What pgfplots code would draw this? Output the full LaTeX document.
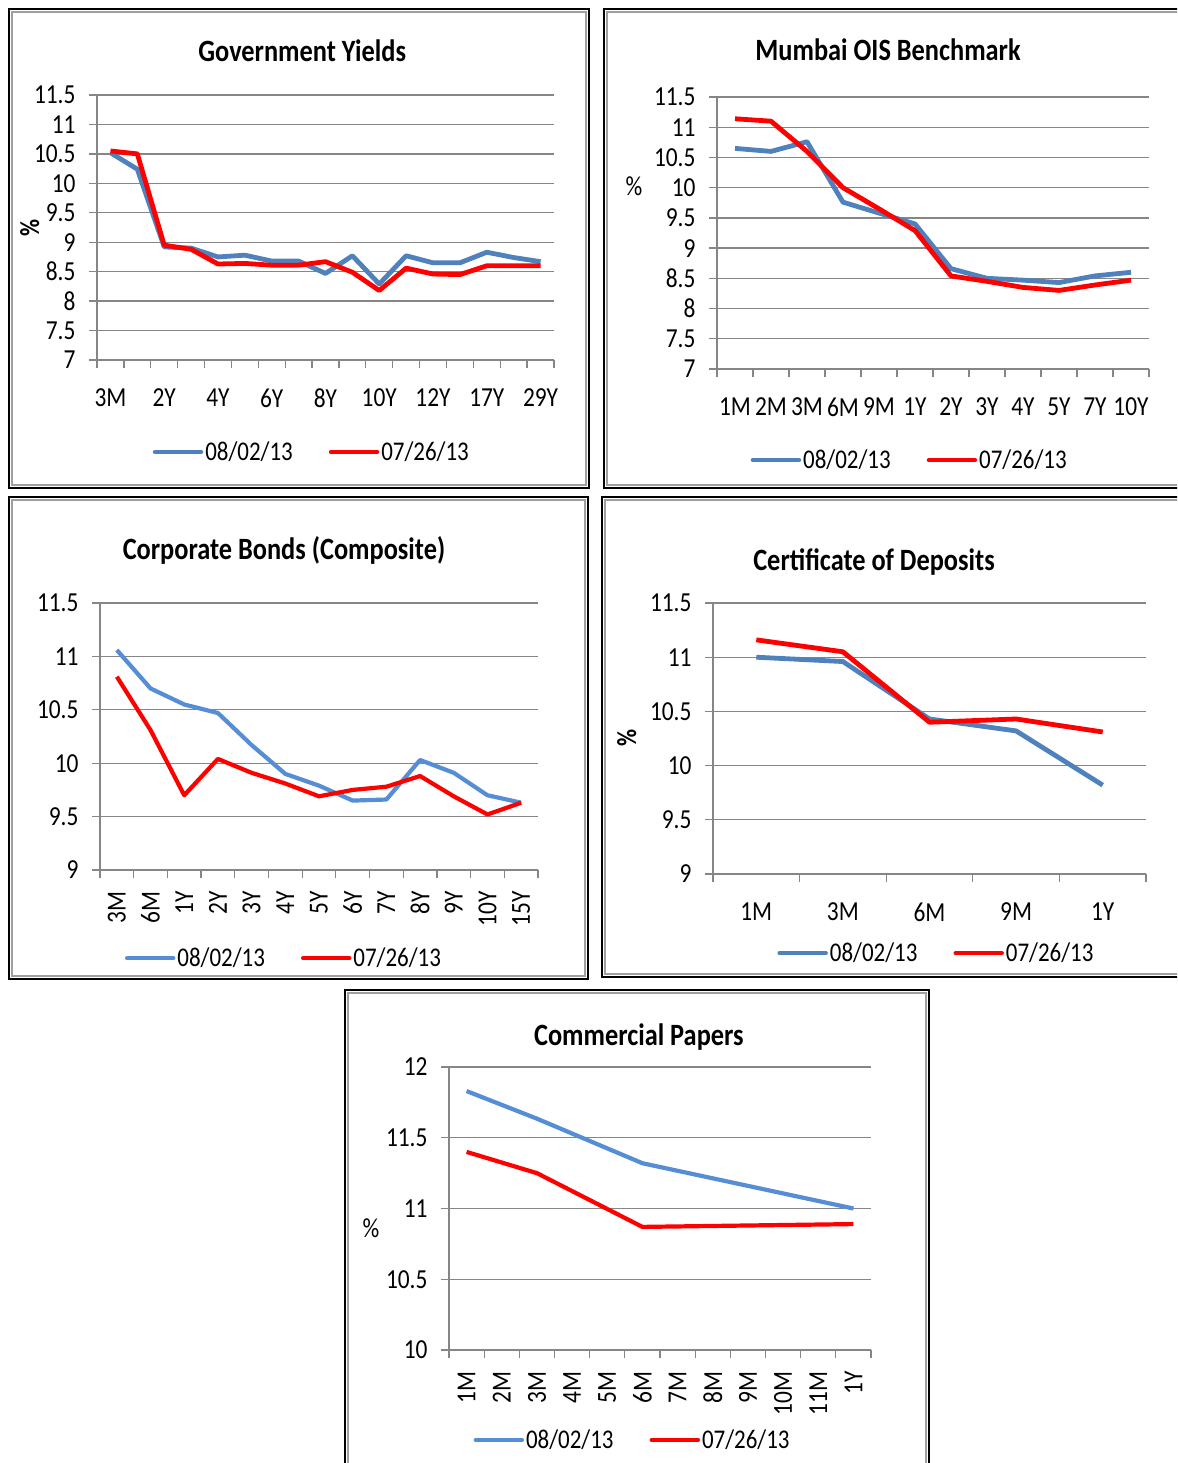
\documentclass[border=0pt]{standalone}
\usepackage{fontspec}
\setmainfont{Carlito}[FakeStretch=0.85]
\usepackage{pgfplots}
\pgfplotsset{compat=1.18}
\definecolor{gridgray}{HTML}{868686}
\definecolor{xlblue}{HTML}{4F81BD}
\definecolor{ltblue}{HTML}{558ED5}
\definecolor{xlred}{HTML}{FF0000}
\newcommand\ticksize{\fontsize{27.5}{31}\selectfont}
\newcommand\legsize{\fontsize{27}{31}\selectfont}
\newcommand\titlesize{\fontsize{31}{35}\selectfont}
\pgfplotsset{
  panel/.style={
    scale only axis,
    axis x line*=bottom, axis y line*=left,
    axis line style={gridgray, line width=1.3pt, -},
    ymajorgrids, grid style={gridgray, line width=1.3pt},
    tick align=outside,
    major tick length=8pt, minor tick length=8pt,
    y tick style={gridgray, line width=1.3pt},
    minor x tick style={gridgray, line width=1.3pt},
    major x tick style={draw=none},
    tick label style={font=\ticksize},
    yticklabel style={xshift=-10pt},
    xticklabel style={yshift=-17pt},
    /pgf/number format/assume math mode=true,
    clip=false,
    legend columns=2,
    legend style={draw=none, fill=none, font=\legsize, anchor=center,
      /tikz/every even column/.append style={column sep=34pt}},
    legend image code/.code={\draw[##1, line cap=round, line width=4.5pt] (0pt,0pt) -- (46pt,0pt);},
    title style={font=\titlesize\bfseries, anchor=center, yshift=-7pt},
    ylabel style={font=\ticksize, anchor=center},
  },
  rotx/.style={xticklabel style={yshift=17pt, rotate=90, anchor=east, xshift=-10pt}},
  pl/.style={line width=#1, line join=round, no marks},
}
\pgfplotstableread{
x blue red
0 10.52 10.55
1 10.24 10.50
2 8.92 8.95
3 8.90 8.88
4 8.75 8.63
5 8.78 8.64
6 8.68 8.61
7 8.68 8.61
8 8.47 8.67
9 8.77 8.49
10 8.29 8.18
11 8.77 8.56
12 8.65 8.46
13 8.65 8.45
14 8.83 8.60
15 8.74 8.60
16 8.67 8.60
}\govt
\pgfplotstableread{
x blue red
0 10.65 11.14
1 10.60 11.10
2 10.76 10.60
3 9.76 10.00
4 9.58 9.65
5 9.40 9.29
6 8.66 8.54
7 8.50 8.45
8 8.47 8.35
9 8.43 8.30
10 8.54 8.39
11 8.60 8.47
}\ois
\pgfplotstableread{
x blue red
0 11.06 10.81
1 10.70 10.31
2 10.55 9.70
3 10.47 10.04
4 10.17 9.91
5 9.90 9.81
6 9.79 9.69
7 9.65 9.75
8 9.66 9.78
9 10.03 9.88
10 9.91 9.69
11 9.70 9.52
12 9.63 9.63
}\corp
\pgfplotstableread{
x blue red
0 11.00 11.16
1 10.96 11.05
2 10.43 10.40
3 10.32 10.43
4 9.82 10.31
}\cds
\pgfplotstableread{
x blue red
0 11.83 11.40
2 11.635 11.25
5 11.32 10.87
11 11.00 10.89
}\cps
\begin{document}
\begin{tikzpicture}
\useasboundingbox (0,0) rectangle (1177pt,-1463pt);
\clip (0,0) rectangle (1177pt,-1463pt);
\fill[white] (0,0) rectangle (1177pt,-1463pt);
% frames
\foreach \a/\b/\c/\d in {9/9/589/488, 604/9/1190/488, 9/497/588/979, 602/497/1190/977, 345/990/929/1480}{
  \draw[black, line width=2.6pt] (\a pt,-\b pt) rectangle (\c pt,-\d pt);
  \draw[gray!75, line width=2pt] (\a pt+3.2pt,-\b pt-3.2pt) rectangle (\c pt-3.2pt,-\d pt+3.2pt);
}
% Panel 1
\begin{axis}[panel, at={(97pt,-360pt)}, anchor=south west, width=457pt, height=265pt,
  xmin=-0.5, xmax=16.5, ymin=7, ymax=11.5,
  ytick={7,7.5,8,8.5,9,9.5,10,10.5,11,11.5},
  xtick={0,...,16}, xticklabels={3M,,2Y,,4Y,,6Y,,8Y,,10Y,,12Y,,17Y,,29Y},
  minor xtick={-0.5,0.5,...,16.5},
  title={Government Yields}, title style={at={(0.449,1.17)}},
  ylabel={\textbf{\%}}, ylabel style={at={(-0.147,0.498)}},
  legend style={at={(0.47,-0.347)}}]
\addplot[xlblue, pl=4.8pt] table[x=x, y=blue] {\govt};
\addlegendentry{08/02/13}
\addplot[xlred, pl=4.8pt] table[x=x, y=red] {\govt};
\addlegendentry{07/26/13}
\end{axis}
% Panel 2
\begin{axis}[panel, at={(717pt,-369pt)}, anchor=south west, width=432pt, height=272pt,
  xmin=-0.5, xmax=11.5, ymin=7, ymax=11.5,
  ytick={7,7.5,8,8.5,9,9.5,10,10.5,11,11.5},
  xtick={0,...,11}, xticklabels={1M,2M,3M,6M,9M,1Y,2Y,3Y,4Y,5Y,7Y,10Y},
  minor xtick={-0.5,0.5,...,11.5},
  title={Mumbai OIS Benchmark}, title style={at={(0.396,1.176)}},
  ylabel={\%}, ylabel style={at={(-0.192,0.673)}, rotate=-90},
  legend style={at={(0.446,-0.335)}}]
\addplot[xlblue, pl=4.8pt] table[x=x, y=blue] {\ois};
\addlegendentry{08/02/13}
\addplot[xlred, pl=4.8pt] table[x=x, y=red] {\ois};
\addlegendentry{07/26/13}
\end{axis}
% Panel 3
\begin{axis}[panel, rotx, at={(100pt,-870pt)}, anchor=south west, width=438pt, height=267pt,
  xmin=-0.5, xmax=12.5, ymin=9, ymax=11.5,
  ytick={9,9.5,10,10.5,11,11.5},
  xtick={0,...,12}, xticklabels={3M,6M,1Y,2Y,3Y,4Y,5Y,6Y,7Y,8Y,9Y,10Y,15Y},
  minor xtick={-0.5,0.5,...,12.5},
  title={Corporate Bonds (Composite)}, title style={at={(0.42,1.199)}},
  legend style={at={(0.42,-0.33)}}]
\addplot[ltblue, pl=4.2pt] table[x=x, y=blue] {\corp};
\addlegendentry{08/02/13}
\addplot[xlred, pl=4.2pt] table[x=x, y=red] {\corp};
\addlegendentry{07/26/13}
\end{axis}
% Panel 4
\begin{axis}[panel, at={(713pt,-874pt)}, anchor=south west, width=433pt, height=271pt,
  xmin=-0.5, xmax=4.5, ymin=9, ymax=11.5,
  ytick={9,9.5,10,10.5,11,11.5},
  xtick={0,...,4}, xticklabels={1M,3M,6M,9M,1Y},
  minor xtick={-0.5,0.5,...,4.5},
  title={Certificate of Deposits}, title style={at={(0.372,1.155)}},
  ylabel={\textbf{\%}}, ylabel style={at={(-0.199,0.502)}},
  legend style={at={(0.516,-0.292)}}]
\addplot[xlblue, pl=4.8pt] table[x=x, y=blue] {\cds};
\addlegendentry{08/02/13}
\addplot[xlred, pl=4.8pt] table[x=x, y=red] {\cds};
\addlegendentry{07/26/13}
\end{axis}
% Panel 5
\begin{axis}[panel, rotx, at={(449pt,-1350pt)}, anchor=south west, width=422pt, height=283pt,
  xmin=-0.5, xmax=11.5, ymin=10, ymax=12,
  ytick={10,10.5,11,11.5,12},
  xtick={0,...,11}, xticklabels={1M,2M,3M,4M,5M,6M,7M,8M,9M,10M,11M,1Y},
  minor xtick={-0.5,0.5,...,11.5},
  title={Commercial Papers}, title style={at={(0.45,1.11)}},
  ylabel={\%}, ylabel style={at={(-0.185,0.431)}, rotate=-90},
  legend style={at={(0.435,-0.318)}}]
\addplot[ltblue, pl=4.2pt] table[x=x, y=blue] {\cps};
\addlegendentry{08/02/13}
\addplot[xlred, pl=4.2pt] table[x=x, y=red] {\cps};
\addlegendentry{07/26/13}
\end{axis}
\end{tikzpicture}
\end{document}
